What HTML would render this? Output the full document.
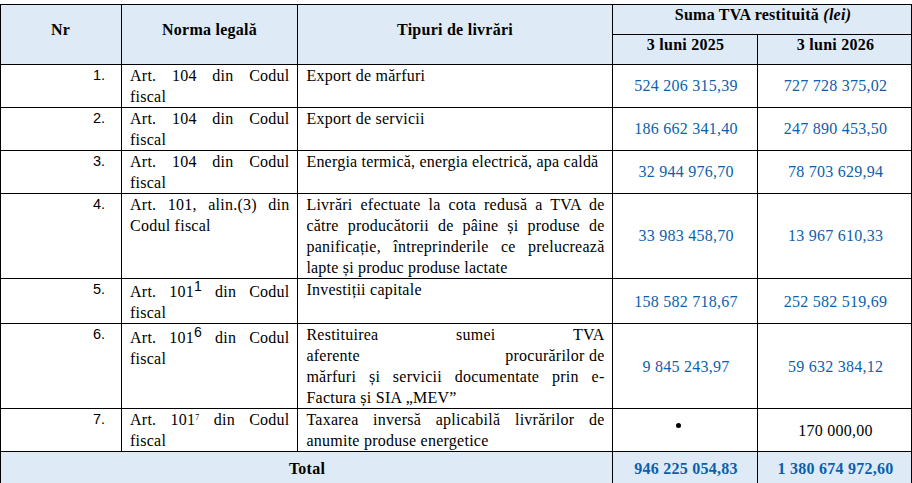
<!DOCTYPE html>
<html lang="ro"><head><meta charset="utf-8"><title>Tabel TVA</title>
<style>
html,body{margin:0;padding:0;background:#fff;}
body{width:912px;height:483px;position:relative;overflow:hidden;font-family:"Liberation Serif",serif;font-size:16px;color:#000;letter-spacing:0.25px;}
.bg{position:absolute;background:#deeaf6;}
.v,.h{position:absolute;background:#000;}
.t{position:absolute;white-space:nowrap;line-height:21px;height:21px;}
.j{text-align:justify;text-align-last:justify;white-space:normal;}
.c{text-align:center;}
.r{text-align:right;}
.b{font-weight:bold;}
.n{color:#0b5fad;}
.s{font-family:"Liberation Sans",sans-serif;}

</style></head><body>
<div class="bg" style="left:0;top:4px;width:912px;height:61px"></div>
<div class="bg" style="left:0;top:451px;width:912px;height:32px"></div>
<div class="h" style="left:0;top:4px;width:912px;height:1px"></div>
<div class="h" style="left:0;top:64px;width:912px;height:1px"></div>
<div class="h" style="left:0;top:107px;width:912px;height:1px"></div>
<div class="h" style="left:0;top:150px;width:912px;height:1px"></div>
<div class="h" style="left:0;top:193px;width:912px;height:1px"></div>
<div class="h" style="left:0;top:278px;width:912px;height:1px"></div>
<div class="h" style="left:0;top:323px;width:912px;height:1px"></div>
<div class="h" style="left:0;top:408px;width:912px;height:1px"></div>
<div class="h" style="left:0;top:451px;width:912px;height:1px"></div>
<div class="h" style="left:612px;top:34px;width:300px;height:1px"></div>
<div class="v" style="left:0px;top:4px;width:1px;height:479px"></div>
<div class="v" style="left:911px;top:4px;width:1px;height:479px"></div>
<div class="v" style="left:121px;top:4px;width:1px;height:447px"></div>
<div class="v" style="left:297px;top:4px;width:1px;height:447px"></div>
<div class="v" style="left:612px;top:4px;width:1px;height:479px"></div>
<div class="v" style="left:757px;top:34px;width:1px;height:449px"></div>
<div class="t c b" style="left:0.0px;top:19.0px;width:121.0px">Nr</div>
<div class="t c b" style="left:122.0px;top:19.0px;width:175.0px">Norma legală</div>
<div class="t c b" style="left:298.0px;top:19.0px;width:314.0px">Tipuri de livrări</div>
<div class="t c b" style="left:614.0px;top:4.0px;width:298.0px">Suma TVA restituită <i>(lei)</i></div>
<div class="t c b" style="left:613.5px;top:34.0px;width:144.0px">3 luni 2025</div>
<div class="t c b" style="left:759.0px;top:34.0px;width:153.0px">3 luni 2026</div>
<div class="t r" style="left:0.0px;top:64.0px;width:105.0px"><span class="s" style="font-size:14.5px;letter-spacing:0">1.</span></div>
<div class="t j" style="left:130.0px;top:65.0px;width:159.5px">Art. 104 din Codul</div>
<div class="t " style="left:130.0px;top:86.0px;width:159.5px">fiscal</div>
<div class="t " style="left:306.4px;top:65.0px;width:298.1px">Export de mărfuri</div>
<div class="t c n" style="left:614.0px;top:75.0px;width:144.0px">524 206 315,39</div>
<div class="t c n" style="left:759.0px;top:75.0px;width:153.0px">727 728 375,02</div>
<div class="t r" style="left:0.0px;top:107.0px;width:105.0px"><span class="s" style="font-size:14.5px;letter-spacing:0">2.</span></div>
<div class="t j" style="left:130.0px;top:108.0px;width:159.5px">Art. 104 din Codul</div>
<div class="t " style="left:130.0px;top:129.0px;width:159.5px">fiscal</div>
<div class="t " style="left:306.4px;top:108.0px;width:298.1px">Export de servicii</div>
<div class="t c n" style="left:614.0px;top:118.0px;width:144.0px">186 662 341,40</div>
<div class="t c n" style="left:759.0px;top:118.0px;width:153.0px">247 890 453,50</div>
<div class="t r" style="left:0.0px;top:150.0px;width:105.0px"><span class="s" style="font-size:14.5px;letter-spacing:0">3.</span></div>
<div class="t j" style="left:130.0px;top:151.0px;width:159.5px">Art. 104 din Codul</div>
<div class="t " style="left:130.0px;top:172.0px;width:159.5px">fiscal</div>
<div class="t " style="left:306.4px;top:151.0px;width:298.1px"><span style="letter-spacing:0.215px">Energia termică, energia electrică, apa caldă</span></div>
<div class="t c n" style="left:614.0px;top:161.0px;width:144.0px">32 944 976,70</div>
<div class="t c n" style="left:759.0px;top:161.0px;width:153.0px">78 703 629,94</div>
<div class="t r" style="left:0.0px;top:193.0px;width:105.0px"><span class="s" style="font-size:14.5px;letter-spacing:0">4.</span></div>
<div class="t j" style="left:130.0px;top:194.0px;width:159.5px">Art. 101, alin.(3) din</div>
<div class="t " style="left:130.0px;top:215.0px;width:159.5px">Codul fiscal</div>
<div class="t j" style="left:306.4px;top:194.0px;width:298.1px">Livrări efectuate la cota redusă a TVA de</div>
<div class="t j" style="left:306.4px;top:215.0px;width:298.1px">către producătorii de pâine și produse de</div>
<div class="t j" style="left:306.4px;top:236.0px;width:298.1px">panificație, întreprinderile ce prelucrează</div>
<div class="t " style="left:306.4px;top:257.0px;width:298.1px"><span style="letter-spacing:0.21px">lapte și produc produse lactate</span></div>
<div class="t c n" style="left:614.0px;top:225.0px;width:144.0px">33 983 458,70</div>
<div class="t c n" style="left:759.0px;top:225.0px;width:153.0px">13 967 610,33</div>
<div class="t r" style="left:0.0px;top:278.0px;width:105.0px"><span class="s" style="font-size:14.5px;letter-spacing:0">5.</span></div>
<div class="t j" style="left:130.0px;top:281.0px;width:159.5px">Art. 101<sup class="s" style="font-size:14px;vertical-align:6px;line-height:0">1</sup> din Codul</div>
<div class="t " style="left:130.0px;top:302.0px;width:159.5px">fiscal</div>
<div class="t " style="left:306.4px;top:279.0px;width:298.1px">Investiții capitale</div>
<div class="t c n" style="left:614.0px;top:291.0px;width:144.0px">158 582 718,67</div>
<div class="t c n" style="left:759.0px;top:291.0px;width:153.0px">252 582 519,69</div>
<div class="t r" style="left:0.0px;top:323.0px;width:105.0px"><span class="s" style="font-size:14.5px;letter-spacing:0">6.</span></div>
<div class="t j" style="left:130.0px;top:327.0px;width:159.5px">Art. 101<sup class="s" style="font-size:14px;vertical-align:6px;line-height:0">6</sup> din Codul</div>
<div class="t " style="left:130.0px;top:348.0px;width:159.5px">fiscal</div>
<div class="t j" style="left:306.4px;top:324.0px;width:298.1px">Restituirea sumei TVA</div>
<div class="t j" style="left:306.4px;top:345.0px;width:298.1px">aferente <span style="display:inline-block;white-space:nowrap">procurărilor de</span></div>
<div class="t j" style="left:306.4px;top:366.0px;width:298.1px">mărfuri și servicii documentate prin e-</div>
<div class="t " style="left:306.4px;top:387.0px;width:298.1px">Factura și SIA „MEV”</div>
<div class="t c n" style="left:614.0px;top:356.0px;width:144.0px">9 845 243,97</div>
<div class="t c n" style="left:759.0px;top:356.0px;width:153.0px">59 632 384,12</div>
<div class="t r" style="left:0.0px;top:408.0px;width:105.0px"><span class="s" style="font-size:14.5px;letter-spacing:0">7.</span></div>
<div class="t j" style="left:130.0px;top:409.0px;width:159.5px">Art. 101<sup style="font-size:8px;vertical-align:5px;line-height:0">7</sup> din Codul</div>
<div class="t " style="left:130.0px;top:430.0px;width:159.5px">fiscal</div>
<div class="t j" style="left:306.4px;top:409.0px;width:298.1px">Taxarea inversă aplicabilă livrărilor de</div>
<div class="t " style="left:306.4px;top:430.0px;width:298.1px">anumite produse energetice</div>
<div style="position:absolute;left:676px;top:423px;width:5px;height:5px;border-radius:50%;background:#000"></div>
<div class="t c" style="left:759.0px;top:420.0px;width:153.0px">170 000,00</div>
<div class="t c b" style="left:1.0px;top:458.0px;width:612.0px">Total</div>
<div class="t c b n" style="left:614.0px;top:458.0px;width:144.0px">946 225 054,83</div>
<div class="t c b n" style="left:759.0px;top:458.0px;width:153.0px">1 380 674 972,60</div>
</body></html>
